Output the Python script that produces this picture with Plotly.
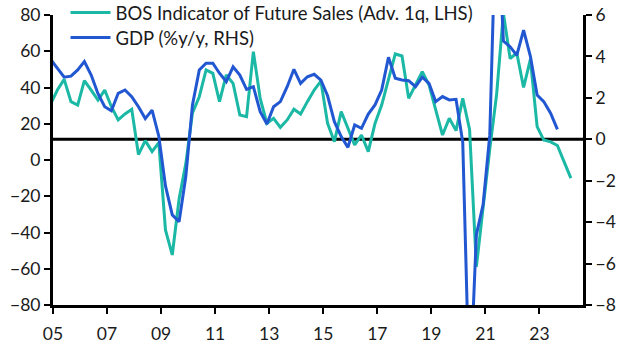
import pandas as pd
import plotly.graph_objects as go

# Quarterly data, first point 2004Q4 (plotted at last month of quarter)
bos_start = "2004-12-01"
bos_values = [
    31,
    38.6, 44.5, 32.2, 30.3,
    43.8, 38.6, 33.1, 38.6,
    29.4, 22.1, 25.4, 28.0,
    3.0, 10.7, 4.6, 9.6,
    -38.6, -52.4, -21.5, -2.0,
    26.0, 34.9, 49.7, 47.8,
    32.2, 46.9, 42.3, 24.8,
    23.9, 59.8, 34.0, 20.2,
    23.0, 18.0, 22.1, 28.0,
    25.4, 32.2, 38.6, 43.5,
    20.2, 10.1, 26.7, 17.5,
    8.3, 13.8, 4.6, 20.2,
    30.3, 44.5, 58.5, 57.4,
    34.0, 41.4, 48.7, 41.4,
    27.6, 13.8, 23.0, 16.2,
    34.0, 16.8, -58.9, -25.0,
    6.0, 36.0, 81.0, 56.0,
    59.0, 40.0, 55.5, 18.4,
    11.0, 10.0, 8.0, -1.0,
    -10.0,
]

gdp_start = "2004-12-01"
gdp_values = [
    3.85,
    3.4, 3.0, 3.05, 3.35,
    3.75, 3.1, 2.2, 1.57,
    1.38, 2.22, 2.38, 2.06,
    1.57, 1.0, 1.41, 0.15,
    -2.25, -3.65, -3.98, -1.8,
    1.66, 3.35, 3.67, 3.67,
    3.19, 2.78, 3.5, 3.1,
    2.41, 2.54, 1.33, 0.74,
    1.57, 1.82, 2.54, 3.38,
    2.7, 3.02, 3.14, 2.86,
    2.1, 0.85, 0.13, -0.39,
    0.69, 0.53, 1.22, 1.66,
    2.38, 3.96, 2.95, 2.86,
    2.83, 2.54, 3.0, 2.7,
    1.82, 2.06, 1.9, 1.93,
    -0.15, -12.5, -4.6, -3.15,
    0.2, 12.0, 4.74, 4.47,
    4.05, 5.27, 4.0, 2.14,
    1.82, 1.26, 0.48,
]

bos_name = "BOS Indicator of Future Sales (Adv. 1q, LHS)"
gdp_name = "GDP (%y/y, RHS)"

left_ticks = [80, 60, 40, 20, 0, -20, -40, -60, -80]
right_ticks = [6, 4, 2, 0, -2, -4, -6, -8]

bos_dates = pd.date_range(bos_start, periods=len(bos_values), freq="3MS")
gdp_dates = pd.date_range(gdp_start, periods=len(gdp_values), freq="3MS")

TEAL = "#1bb9a5"
BLUE = "#2257d2"
FONT = "Lato"
TXT = "#1a1a1a"

fig = go.Figure()
fig.add_trace(go.Scatter(
    x=bos_dates, y=bos_values, name=bos_name, mode="lines",
    line=dict(color=TEAL, width=3), yaxis="y", legend="legend",
))
fig.add_trace(go.Scatter(
    x=gdp_dates, y=gdp_values, name=gdp_name, mode="lines",
    line=dict(color=BLUE, width=3), yaxis="y2", legend="legend2",
))

fig.add_shape(type="line", xref="paper", yref="y2", x0=0, x1=1, y0=0, y1=0,
              line=dict(color="black", width=3), layer="below")

axis_common = dict(showgrid=False, zeroline=False, showline=True, linecolor="black",
                   linewidth=3, ticks="outside", ticklen=6, tickwidth=2, tickcolor="black",
                   tickfont=dict(family=FONT, size=17.5, color=TXT))

fig.update_layout(
    width=630, height=354,
    margin=dict(l=53, r=47, t=15, b=49, autoexpand=False),
    paper_bgcolor="white", plot_bgcolor="white",
    font=dict(family=FONT, size=17, color=TXT),
    xaxis=dict(type="date", range=["2005-01-01", "2024-08-12"],
               tick0="2005-01-01", dtick="M24", tickformat="%y",
               ticklabelstandoff=5, **axis_common),
    yaxis=dict(range=[-80, 80], tickvals=left_ticks, **axis_common),
    yaxis2=dict(range=[-8, 6], tickvals=right_ticks, overlaying="y", side="right",
                **axis_common),
    legend=dict(x=0.0236, y=(305 - 13) / 290, xanchor="left", yanchor="middle",
                bgcolor="rgba(0,0,0,0)", font=dict(family=FONT, size=18.5, color=TXT),
                itemwidth=40),
    legend2=dict(x=0.0236, y=(305 - 38) / 290, xanchor="left", yanchor="middle",
                 bgcolor="rgba(0,0,0,0)", font=dict(family=FONT, size=18.5, color=TXT),
                 itemwidth=40),
    showlegend=True,
)

fig.write_html("out.html")
